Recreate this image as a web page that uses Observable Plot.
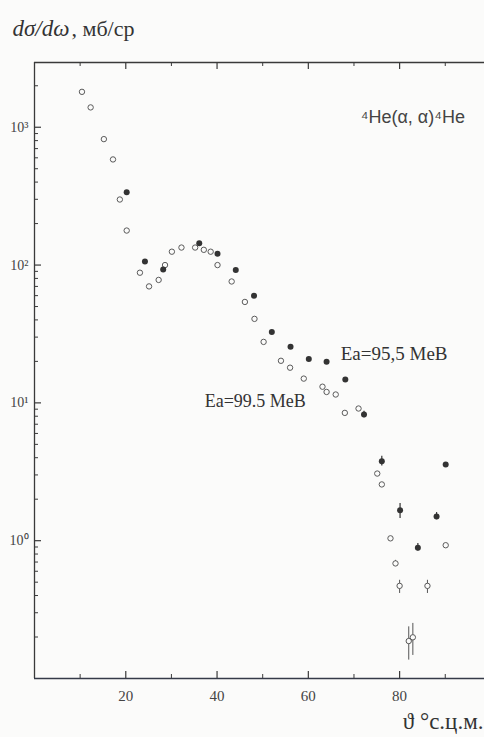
<!DOCTYPE html>
<html><head><meta charset="utf-8">
<script src="https://cdn.jsdelivr.net/npm/d3@7"></script>
<script src="https://cdn.jsdelivr.net/npm/@observablehq/plot@0.6"></script>
<style>
html,body{margin:0;padding:0;background:#fbfbfa;}
#chart svg{display:block;}
</style></head><body><div id="chart"></div>
<script>
// Ea = 99.5 MeV (open circles)
const openX = [10.4, 12.3, 15.2, 17.2, 18.7, 20.2, 23.1, 25.1, 27.2, 28.6, 30.1, 32.2, 35.2, 37.1, 38.6, 40.1, 43.2, 46.1, 48.2, 50.2, 54.0, 56.0, 59.0, 63.1, 64.0, 66.0, 68.0, 71.0, 75.1, 76.1, 78.0, 79.1, 80.0, 82.0, 82.9, 86.1, 90.1];
const openY = [1807, 1393, 820, 584, 299, 178, 88, 70, 78, 100, 125, 134, 134, 129, 125, 100, 76, 54, 40.7, 27.7, 20.2, 18.0, 15.0, 13.1, 12.0, 11.5, 8.46, 9.1, 3.07, 2.56, 1.04, 0.684, 0.47, 0.187, 0.199, 0.47, 0.927];
// Ea = 95.5 MeV (filled)
const fillX = [20.2, 24.2, 28.2, 36.1, 40.1, 44.1, 48.1, 52.0, 56.1, 60.1, 64.0, 68.1, 72.2, 76.1, 80.1, 84.0, 88.1, 90.1];
const fillY = [338, 106, 93, 144, 121, 92, 60, 32.7, 25.5, 20.8, 19.9, 14.8, 8.24, 3.77, 1.66, 0.887, 1.50, 3.57];
// error bars
const openErrX = [79.1, 80.0, 82.0, 82.9, 86.1];
const openErrLo = [0.65, 0.414, 0.136, 0.147, 0.414];
const openErrHi = [0.72, 0.516, 0.237, 0.251, 0.516];
const fillErrX = [72.2, 76.1, 80.1, 84.0, 88.1];
const fillErrLo = [7.8, 3.48, 1.45, 0.84, 1.42];
const fillErrHi = [8.7, 4.10, 1.86, 0.955, 1.60];
// ticks
const xTicksMajor = [20, 40, 60, 80];
const xTicksMinor = [10, 30, 50, 70, 90];
const yTicksMajor = [1, 10, 100, 1000];
const yTickLabels = ["10⁰", "10¹", "10²", "10³"];
const yTicksMinor = [];
for (const dec of [0.1, 1, 10, 100, 1000]) for (const m of [2,3,4,5,6,7,8,9]) if (dec*m < 2950) yTicksMinor.push(dec*m);

const openData = openX.map((x, i) => ({x, y: openY[i]}));
const fillData = fillX.map((x, i) => ({x, y: fillY[i]}));
const openErr = openErrX.map((x, i) => ({x, lo: openErrLo[i], hi: openErrHi[i]}));
const fillErr = fillErrX.map((x, i) => ({x, lo: fillErrLo[i], hi: fillErrHi[i]}));

const W = 484, H = 737, ML = 34, MR = 0, MT = 62, MB = 59;
const FW = W - ML - MR, FH = H - MT - MB;
const ink = "#3a3a3a";
const serif = "Liberation Serif";
const sans = "Liberation Sans";

const chart = Plot.plot({
  width: W, height: H,
  marginLeft: ML, marginRight: MR, marginTop: MT, marginBottom: MB,
  style: {background: "#fbfbfa", fontFamily: serif, color: ink},
  x: {domain: [0, 98.6], axis: null},
  y: {type: "log", domain: [0.1, 2950], axis: null},
  marks: [
    // frame lines
    Plot.ruleX([0], {stroke: ink, strokeWidth: 1.3}),
    Plot.ruleY([0.1], {stroke: "#353a48", strokeWidth: 1.6}),
    Plot.ruleY([2950], {stroke: ink, strokeWidth: 1.3}),
    // inward ticks
    Plot.tickY(yTicksMajor, {stroke: ink, strokeWidth: 1.2, insetRight: FW - 7}),
    Plot.tickY(yTicksMinor, {stroke: ink, strokeWidth: 1, insetRight: FW - 4}),
    Plot.tickX(xTicksMajor, {stroke: ink, strokeWidth: 1.2, insetTop: FH - 7}),
    Plot.tickX(xTicksMinor, {stroke: ink, strokeWidth: 1, insetTop: FH - 4}),
    Plot.tickX(xTicksMajor, {stroke: ink, strokeWidth: 1.2, insetBottom: FH - 7}),
    Plot.tickX(xTicksMinor, {stroke: ink, strokeWidth: 1, insetBottom: FH - 4}),
    // tick labels
    Plot.axisY(yTicksMajor, {label: null, tickSize: 0, tickPadding: 6, tickFormat: d => yTickLabels[yTicksMajor.indexOf(d)], fontSize: 14, fontFamily: serif, fill: "#444"}),
    Plot.axisX(xTicksMajor, {label: null, tickSize: 0, tickPadding: 12, fontSize: 15, fontFamily: serif, fill: "#444"}),
    // error bars
    Plot.ruleX(openErr, {x: "x", y1: "lo", y2: "hi", stroke: "#555", strokeWidth: 1}),
    Plot.ruleX(fillErr, {x: "x", y1: "lo", y2: "hi", stroke: "#333", strokeWidth: 1.2}),
    // points
    Plot.dot(openData, {x: "x", y: "y", r: 2.7, stroke: "#5a5a5a", strokeWidth: 1, fill: "#fbfbfa"}),
    Plot.dot(fillData, {x: "x", y: "y", r: 3, fill: "#333", stroke: "none"}),
    // annotations
    Plot.text(["⁴He(α, α)⁴He"], {x: 82.9, y: 1183, textAnchor: "middle", fontSize: 18, fontFamily: sans, fill: "#444"}),
    Plot.text(["Ea=95,5 MeB"], {x: 67.1, y: 22.5, textAnchor: "start", fontSize: 19, fontFamily: serif, fill: "#333"}),
    Plot.text(["Ea=99.5 MeB"], {x: 37.3, y: 10.3, textAnchor: "start", fontSize: 18, fontFamily: serif, fill: "#333"}),
    // title and axis label
    Plot.text(["dσ/dω"], {frameAnchor: "top-left", dx: -22, dy: -34, textAnchor: "start", lineAnchor: "middle", fontSize: 23, fontStyle: "italic", fontFamily: serif, fill: "#333"}),
    Plot.text([", мб/ср"], {frameAnchor: "top-left", dx: 37, dy: -34, textAnchor: "start", lineAnchor: "middle", fontSize: 22, fontFamily: serif, fill: "#333"}),
    Plot.text(["ϑ °с.ц.м."], {frameAnchor: "bottom-right", dx: -1, dy: 43, textAnchor: "end", lineAnchor: "middle", fontSize: 23, fontFamily: serif, fill: "#333"})
  ]
});
document.getElementById("chart").appendChild(chart);
</script></body></html>
